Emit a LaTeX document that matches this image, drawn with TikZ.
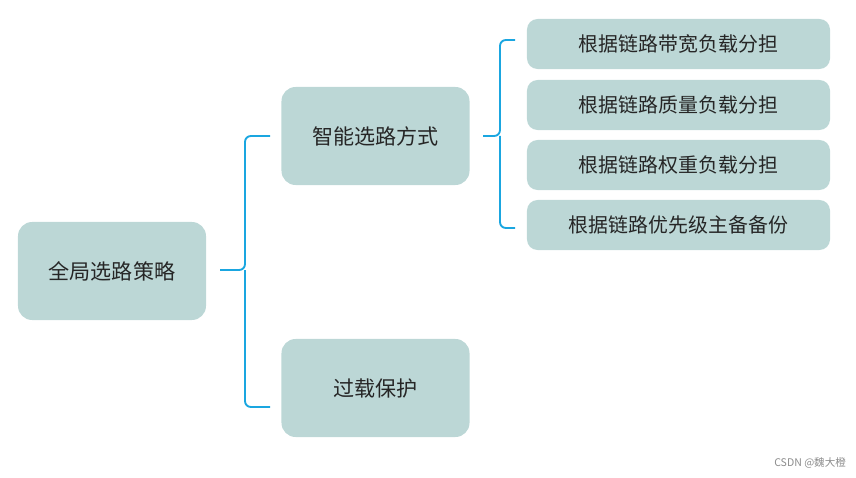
\documentclass[tikz,border=0pt]{standalone}
\usepackage{fontspec}
\newfontfamily\cjk{Noto Sans CJK SC}
\usetikzlibrary{positioning, calc}
\definecolor{boxfill}{HTML}{BCD7D6}
\definecolor{bracecol}{HTML}{1AA6E0}
\tikzset{
  box/.style={draw=none, fill=boxfill, rounded corners=9pt, font=\cjk\fontsize{17}{20}\selectfont, text=black!85},
  bigbox/.style={box, minimum width=5.64cm, minimum height=2.94cm, rounded corners=12pt, font=\cjk\fontsize{18}{22}\selectfont},
  leafbox/.style={box, minimum width=9.09cm, minimum height=1.5cm},
  brace/.style={draw=bracecol, line width=1.6pt, rounded corners=5pt}
}
\begin{document}
\begin{tikzpicture}[x=0.03cm, y=-0.03cm]
        \useasboundingbox (0,0) rectangle (856,478);

        % Boxes
        \node[bigbox] (root) at (112,271) {全局选路策略};
        \node[bigbox] (smart) at (375.5,136) {智能选路方式};
        \node[bigbox] (guard) at (375.5,388) {过载保护};
        \foreach \n/\y/\t in {l1/44/根据链路带宽负载分担, l2/105/根据链路质量负载分担, l3/165/根据链路权重负载分担, l4/225/根据链路优先级主备备份} {
            \node[leafbox] (\n) at (678.5,\y) {\t};
        }

        % Brace from root
        \coordinate (r1) at (270,136);
        \coordinate (r2) at (270,407);
        \draw[brace] (r1) -- (245,136) -- (245,270) -- (220,270);
        \draw[brace] (r2) -- (245,407) -- (245,270);

        % Brace from smart
        \coordinate (s1) at (515,40);
        \coordinate (s2) at (515,228);
        \draw[brace] (s1) -- (500,40) -- (500,136) -- (483,136);
        \draw[brace] (s2) -- (500,228) -- (500,136);

        % Watermark
        \node[font=\cjk\fontsize{9}{11}\selectfont, text=black!45, anchor=east] (mark) at (850,463) {CSDN @魏大橙};
\end{tikzpicture}
\end{document}
